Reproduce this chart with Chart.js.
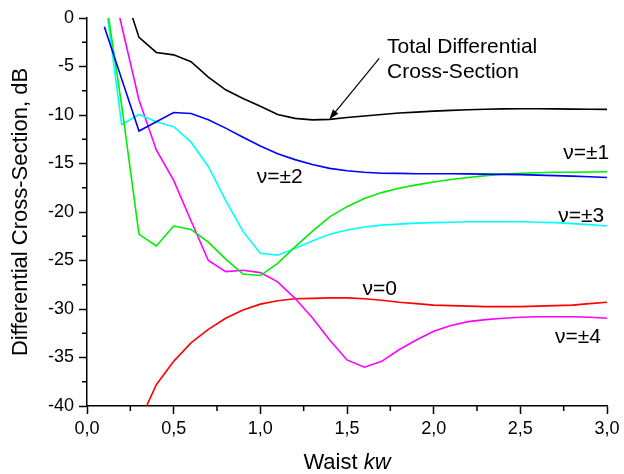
<!DOCTYPE html>
<html>
<head>
<meta charset="utf-8">
<script src="https://cdn.jsdelivr.net/npm/chart.js@4.4.1/dist/chart.umd.min.js"></script>
<style>
  html, body { margin: 0; padding: 0; background: #fff; }
  canvas { display: block; }
</style>
</head>
<body>
<canvas id="chart" width="624" height="474"></canvas>
<script>
// waist kw samples, and the dB values
const waist = [0.1, 0.2, 0.3, 0.4, 0.5, 0.6, 0.7, 0.8, 0.9, 1.0,
               1.1, 1.2, 1.3, 1.4, 1.5, 1.6, 1.7, 1.8, 1.9, 2.0,
               2.1, 2.2, 2.3, 2.4, 2.5, 2.6, 2.7, 2.8, 2.9, 3.0];

const totalCS = [8.0, 3.5, -2.0, -3.55, -3.8, -4.5, -6.1, -7.4, -8.3, -9.1,
                 -9.95, -10.35, -10.5, -10.45, -10.25, -10.1, -9.95, -9.8, -9.7, -9.6,
                 -9.52, -9.46, -9.41, -9.37, -9.35, -9.35, -9.37, -9.39, -9.4, -9.42];

const nu0 = [null, null, -41.7, -37.8, -35.4, -33.5, -32.1, -30.95, -30.1, -29.5,
             -29.15, -28.95, -28.9, -28.85, -28.85, -28.95, -29.1, -29.3, -29.45, -29.6,
             -29.65, -29.7, -29.75, -29.75, -29.75, -29.7, -29.65, -29.6, -29.45, -29.3];

const nu1 = [3.0, -9.0, -22.3, -23.5, -21.45, -21.8, -23.1, -24.85, -26.4, -26.55,
             -25.3, -23.6, -22.0, -20.5, -19.45, -18.6, -18.0, -17.55, -17.2, -16.9,
             -16.65, -16.45, -16.25, -16.1, -16.0, -15.95, -15.9, -15.9, -15.87, -15.85];

const nu2 = [-0.9, -6.3, -11.65, -10.7, -9.75, -9.85, -10.5, -11.35, -12.3, -13.2,
             -14.0, -14.6, -15.1, -15.5, -15.75, -15.9, -16.0, -16.02, -16.05, -16.05,
             -16.05, -16.07, -16.1, -16.12, -16.15, -16.2, -16.25, -16.3, -16.37, -16.45];

const nu3 = [2.7, -11.0, -9.95, -10.7, -11.2, -12.8, -15.3, -18.8, -22.0, -24.25,
             -24.45, -23.75, -23.0, -22.3, -21.85, -21.55, -21.35, -21.25, -21.15, -21.1,
             -21.05, -21.0, -21.0, -21.0, -21.0, -21.05, -21.1, -21.2, -21.3, -21.45];

const nu4 = [7.0, -0.8, -8.45, -13.6, -16.75, -20.9, -25.0, -26.15, -26.0, -26.25,
             -27.2, -28.9, -30.9, -33.2, -35.25, -36.0, -35.4, -34.2, -33.2, -32.3,
             -31.7, -31.3, -31.1, -30.95, -30.85, -30.8, -30.8, -30.8, -30.85, -30.95];

const xMinorTicks = [0.25, 0.75, 1.25, 1.75, 2.25, 2.75];
const yMinorTicks = [-2.5, -7.5, -12.5, -17.5, -22.5, -27.5, -32.5, -37.5];

// curve labels, in data coordinates (left edge, baseline)
const curveLabels = [
    { text: 'ν=±1', x: 2.748, y: -14.57 },
    { text: 'ν=±2', x: 0.979, y: -16.98 },
    { text: 'ν=±3', x: 2.719, y: -21.0 },
    { text: 'ν=0',  x: 1.59,  y: -28.56 },
    { text: 'ν=±4', x: 2.70,  y: -33.54 },
    { text: 'Total Differential', x: 1.731, y: -3.58 },
    { text: 'Cross-Section', x: 1.731, y: -6.22 }
];
const arrowFrom = { x: 1.686, y: -4.15 };
const arrowTo = { x: 1.398, y: -10.44 };

const FONT = "'Liberation Sans', Arial, sans-serif";

function series(values, color) {
    return {
        data: values.map((v, i) => ({ x: waist[i], y: v })),
        borderColor: color,
        borderWidth: 1.6,
        pointRadius: 0,
        tension: 0,
        fill: false,
        spanGaps: false,
        clip: 0
    };
}

const decorPlugin = {
    id: 'decor',
    afterDraw(chart) {
        const { ctx, chartArea, scales: { x, y } } = chart;
        ctx.save();
        ctx.strokeStyle = '#000';
        ctx.fillStyle = '#000';
        ctx.lineWidth = 1.5;

        // minor ticks (outward)
        ctx.beginPath();
        xMinorTicks.forEach(v => {
            const px = x.getPixelForValue(v);
            ctx.moveTo(px, chartArea.bottom);
            ctx.lineTo(px, chartArea.bottom + 5);
        });
        yMinorTicks.forEach(v => {
            const py = y.getPixelForValue(v);
            ctx.moveTo(chartArea.left, py);
            ctx.lineTo(chartArea.left - 5, py);
        });
        ctx.stroke();

        // x title with italic kw
        ctx.textBaseline = 'alphabetic';
        ctx.font = `22px ${FONT}`;
        const part1 = 'Waist ';
        const w1 = ctx.measureText(part1).width;
        ctx.font = `italic 22px ${FONT}`;
        const w2 = ctx.measureText('kw').width;
        const cx = (chartArea.left + chartArea.right) / 2;
        const startX = cx - (w1 + w2) / 2;
        const baseY = chartArea.bottom + 63;
        ctx.font = `22px ${FONT}`;
        ctx.fillText(part1, startX, baseY);
        ctx.font = `italic 22px ${FONT}`;
        ctx.fillText('kw', startX + w1, baseY);

        // curve labels
        ctx.font = `21px ${FONT}`;
        ctx.textAlign = 'left';
        curveLabels.forEach(l => {
            ctx.fillText(l.text, x.getPixelForValue(l.x), y.getPixelForValue(l.y));
        });

        // arrow to the total curve
        const x0 = x.getPixelForValue(arrowFrom.x), y0 = y.getPixelForValue(arrowFrom.y);
        const x1 = x.getPixelForValue(arrowTo.x), y1 = y.getPixelForValue(arrowTo.y);
        const ang = Math.atan2(y1 - y0, x1 - x0);
        ctx.lineWidth = 1.2;
        ctx.beginPath();
        ctx.moveTo(x0, y0);
        ctx.lineTo(x1 - 8 * Math.cos(ang), y1 - 8 * Math.sin(ang));
        ctx.stroke();
        ctx.beginPath();
        ctx.moveTo(x1, y1);
        ctx.lineTo(x1 - 10 * Math.cos(ang) + 3.5 * Math.sin(ang), y1 - 10 * Math.sin(ang) - 3.5 * Math.cos(ang));
        ctx.lineTo(x1 - 10 * Math.cos(ang) - 3.5 * Math.sin(ang), y1 - 10 * Math.sin(ang) + 3.5 * Math.cos(ang));
        ctx.closePath();
        ctx.fill();
        ctx.restore();
    }
};

new Chart(document.getElementById('chart'), {
    type: 'line',
    data: {
        datasets: [
            series(totalCS, '#000000'),
            series(nu2, '#0000ff'),
            series(nu1, '#00ee00'),
            series(nu3, '#00ffff'),
            series(nu4, '#ff00ff'),
            series(nu0, '#ff0000')
        ]
    },
    options: {
        responsive: false,
        animation: false,
        layout: { padding: { top: 18, right: 17, left: 0, bottom: 0 } },
        plugins: { legend: { display: false }, tooltip: { enabled: false } },
        scales: {
            x: {
                type: 'linear',
                min: 0,
                max: 3,
                afterFit: s => { s.height = 68; },
                border: { display: true, color: '#000', width: 1.5 },
                grid: { drawOnChartArea: false, drawTicks: true, tickLength: 8, tickWidth: 1.5, tickColor: '#000' },
                ticks: {
                    stepSize: 0.5,
                    maxRotation: 0,
                    autoSkip: false,
                    padding: 4,
                    color: '#000',
                    font: { family: FONT, size: 18 },
                    callback: v => v.toFixed(1).replace('.', ',')
                },
                title: { display: false }
            },
            y: {
                min: -40,
                max: 0,
                afterFit: s => { s.width = 87; },
                border: { display: true, color: '#000', width: 1.5 },
                grid: { drawOnChartArea: false, drawTicks: true, tickLength: 8, tickWidth: 1.5, tickColor: '#000' },
                ticks: {
                    stepSize: 5,
                    padding: 5,
                    color: '#000',
                    font: { family: FONT, size: 18 },
                    callback: v => String(v)
                },
                title: {
                    display: true,
                    text: 'Differential Cross-Section, dB',
                    color: '#000',
                    font: { family: FONT, size: 22 },
                    padding: { top: 8, bottom: 0 }
                }
            }
        }
    },
    plugins: [decorPlugin]
});
</script>
</body>
</html>
